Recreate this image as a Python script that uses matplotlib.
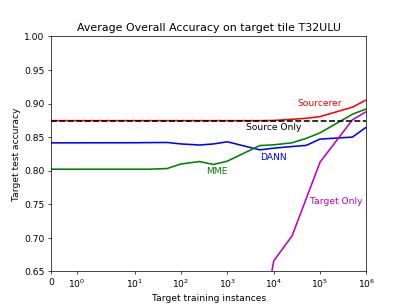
import numpy as np
import matplotlib
matplotlib.use("Agg")
import matplotlib.pyplot as plt
from matplotlib.ticker import NullLocator

plt.rcParams["font.size"] = 10.4

# training instance counts (x) and accuracies
x_main = [0, 10, 20, 50, 100, 250, 500, 1000, 5000, 10000, 25000, 50000, 100000, 500000, 1000000]
sourcerer = [0.8745, 0.8745, 0.8745, 0.8745, 0.8745, 0.8745, 0.8745, 0.8745, 0.8745, 0.8748, 0.8765, 0.878, 0.8805, 0.8945, 0.9055]
dann = [0.8414, 0.8416, 0.8418, 0.842, 0.8398, 0.8382, 0.8398, 0.843, 0.831, 0.8335, 0.836, 0.8376, 0.847, 0.850, 0.8648]
mme = [0.8022, 0.8022, 0.8022, 0.8032, 0.810, 0.8136, 0.8092, 0.8142, 0.8374, 0.8385, 0.8415, 0.848, 0.8563, 0.884, 0.892]

x_target = [5000, 10000, 25000, 100000, 500000, 1000000]
target_only = [0.545, 0.6656, 0.703, 0.8126, 0.8757, 0.888]

source_only = 0.8745

xticks = [0, 1, 10, 100, 1000, 10000, 100000, 1000000]
xticklabels = ["0", "$10^{0}$", "$10^{1}$", "$10^{2}$", "$10^{3}$", "$10^{4}$", "$10^{5}$", "$10^{6}$"]
yticks = [0.65, 0.70, 0.75, 0.80, 0.85, 0.90, 0.95, 1.00]

fig = plt.figure(figsize=(6.4, 4.8), dpi=63.6)
ax = fig.add_subplot(111)

ax.plot(x_main, sourcerer, color="r", lw=1.8)
ax.plot(x_main, dann, color="b", lw=1.8)
ax.plot(x_main, mme, color="g", lw=1.8)
ax.plot(x_target, target_only, color="m", lw=1.8)
ax.plot([0, 1000000], [source_only, source_only], "k--", lw=1.8)

ax.text(1e5, 0.8999, "Sourcerer", color="r", ha="center", va="center")
ax.text(1e4, 0.8648, "Source Only", color="k", ha="center", va="center")
ax.text(1e4, 0.8205, "DANN", color="b", ha="center", va="center")
ax.text(590, 0.7997, "MME", color="g", ha="center", va="center")
ax.text(2.29e5, 0.7546, "Target Only", color="m", ha="center", va="center")

ax.set_xscale("symlog", linthresh=2)
ax.set_xlim(0, 1000000)
ax.set_ylim(0.65, 1.00)
ax.set_xticks(xticks)
ax.set_xticklabels(xticklabels)
ax.xaxis.set_minor_locator(NullLocator())
ax.set_yticks(yticks)
ax.set_yticklabels(["%.2f" % t for t in yticks])

ax.set_title("Average Overall Accuracy on target tile T32ULU")
ax.set_xlabel("Target training instances")
ax.set_ylabel("Target test accuracy")

plt.savefig("out.png", dpi=63.6)
